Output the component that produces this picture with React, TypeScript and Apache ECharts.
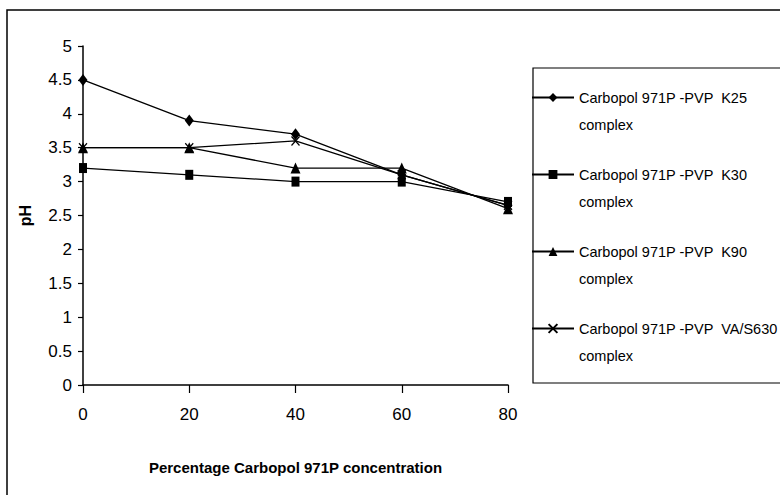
import React, { useEffect, useRef } from "react";
import * as echarts from "echarts";

const concentrations = [0, 20, 40, 60, 80];
const seriesNames = [
  "Carbopol 971P -PVP  K25",
  "Carbopol 971P -PVP  K30",
  "Carbopol 971P -PVP  K90",
  "Carbopol 971P -PVP  VA/S630",
];
const k25 = [4.5, 3.9, 3.7, 3.1, 2.65];
const k30 = [3.2, 3.1, 3.0, 3.0, 2.7];
const k90 = [3.5, 3.5, 3.2, 3.2, 2.6];
const vas630 = [3.5, 3.5, 3.6, 3.1, 2.65];
const yTicks = { min: 0, max: 5, interval: 0.5 };
const xTicks = { min: 0, max: 80, interval: 20 };

const FONT = '"Liberation Sans", Arial, sans-serif';

export default function App() {
  const ref = useRef<HTMLDivElement>(null);
  useEffect(() => {
    if (!ref.current) return;
    const chart = echarts.init(ref.current, undefined, { renderer: "svg" });
    const allData = [k25, k30, k90, vas630];
    const symbols = ["diamond", "rect", "triangle", "path://M0,0L10,10M10,0L0,10"];
    const sizes: any[] = [[9, 12], [8, 10], [10, 11], [8, 9]];
    chart.setOption({
      animation: false,
      backgroundColor: "#fff",
      graphic: [
        {
          type: "rect",
          shape: { x: 7, y: 10, width: 900, height: 600 },
          style: { fill: "none", stroke: "#000", lineWidth: 1.5 },
          z: 0,
        },
        {
          type: "rect",
          shape: { x: 533, y: 68, width: 300, height: 315 },
          style: { fill: "none", stroke: "#000", lineWidth: 1.2 },
          z: 0,
        },
      ],
      grid: { left: 83, right: 272, top: 46, bottom: 110, containLabel: false },
      legend: {
        orient: "vertical",
        left: 531,
        top: 57,
        padding: 0,
        itemGap: -4,
        itemWidth: 42,
        itemHeight: 11,
        formatter: (name: string) => " \n" + name + "\ncomplex",
        textStyle: {
          fontFamily: FONT,
          fontSize: 14.5,
          color: "#000",
          lineHeight: 27,
        },
        data: seriesNames,
      },
      xAxis: {
        type: "value",
        min: xTicks.min,
        max: xTicks.max,
        interval: xTicks.interval,
        name: "Percentage Carbopol 971P concentration",
        nameLocation: "middle",
        nameGap: 75,
        nameTextStyle: { fontFamily: FONT, fontSize: 15, fontWeight: "bold", color: "#000" },
        axisLine: { lineStyle: { color: "#000", width: 1.5 } },
        axisTick: { show: true, length: 8, lineStyle: { color: "#000", width: 1.2 } },
        axisLabel: { fontFamily: FONT, fontSize: 17, color: "#000", margin: 21 },
        splitLine: { show: false },
      },
      yAxis: {
        type: "value",
        min: yTicks.min,
        max: yTicks.max,
        interval: yTicks.interval,
        name: "pH",
        nameLocation: "middle",
        nameGap: 50,
        nameRotate: 90,
        nameTextStyle: { fontFamily: FONT, fontSize: 16, fontWeight: "bold", color: "#000" },
        axisLine: { show: true, lineStyle: { color: "#000", width: 1.5 } },
        axisTick: { show: true, length: 5, lineStyle: { color: "#000", width: 1.2 } },
        axisLabel: { fontFamily: FONT, fontSize: 17, color: "#000", margin: 11 },
        splitLine: { show: false },
      },
      series: seriesNames.map((name, i) => ({
        name,
        type: "line",
        data: concentrations.map((x, j) => [x, allData[i][j]]),
        symbol: symbols[i],
        symbolSize: sizes[i],
        showSymbol: true,
        lineStyle: { color: "#000", width: 1.3 },
        itemStyle: { color: "#000", borderColor: "#000", borderWidth: i === 3 ? 1.3 : 0 },
      })),
    });
    return () => chart.dispose();
  }, []);
  return (
    <div
      ref={ref}
      style={{ position: "fixed", left: 0, top: 0, width: 780, height: 495 }}
    />
  );
}
